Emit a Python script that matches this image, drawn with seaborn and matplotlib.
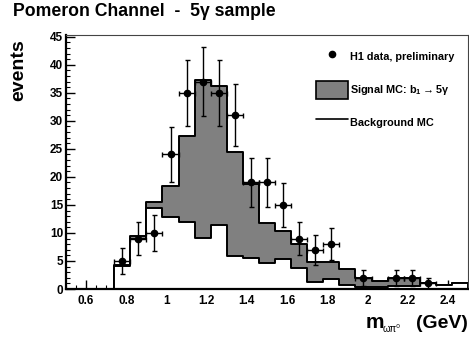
import numpy as np
import pandas as pd
import matplotlib
matplotlib.use("Agg")
import matplotlib.pyplot as plt
import seaborn as sns
from matplotlib.lines import Line2D
from matplotlib.patches import Patch
from matplotlib.ticker import MultipleLocator

# ---- data ----
bin_centers = [0.54, 0.62, 0.70, 0.78, 0.86, 0.94, 1.02, 1.10, 1.18, 1.26, 1.34, 1.42, 1.50,
               1.58, 1.66, 1.74, 1.82, 1.90, 1.98, 2.06, 2.14, 2.22, 2.30, 2.38, 2.46]
total_mc = [0, 0, 0, 4.3, 9.5, 15.5, 18.3, 27.3, 37.3, 36.2, 24.4, 18.8, 11.8,
            10.4, 8.1, 4.85, 4.85, 3.5, 2.0, 1.5, 2.0, 2.0, 1.1, 0.7, 1.0]
background_mc = [0, 0, 0, 4.1, 9.0, 14.5, 12.8, 12.0, 9.1, 11.5, 5.9, 5.45, 4.7,
                 5.3, 3.7, 1.3, 1.8, 0.8, 0.3, 0.3, 0.5, 0.5, 1.1, 0.7, 1.0]
data_x = [0.78, 0.86, 0.94, 1.02, 1.10, 1.18, 1.26, 1.34, 1.42, 1.50, 1.58, 1.66, 1.74, 1.82,
          1.98, 2.14, 2.22, 2.30]
data_y = [5, 9, 10, 24, 35, 37, 35, 31, 19, 19, 15, 9, 7, 8, 2, 2, 2, 1]
data_yerr = [2.24, 3.0, 3.16, 4.9, 5.92, 6.08, 5.92, 5.57, 4.36, 4.36, 3.87, 3.0, 2.65, 2.83,
             1.41, 1.41, 1.41, 1.0]
half_bin = 0.04
x_range = (0.5, 2.5)
n_bins = 25
x_ticks = [0.6, 0.8, 1.0, 1.2, 1.4, 1.6, 1.8, 2.0, 2.2, 2.4]
x_tick_labels = ["0.6", "0.8", "1", "1.2", "1.4", "1.6", "1.8", "2", "2.2", "2.4"]
y_ticks = [0, 5, 10, 15, 20, 25, 30, 35, 40, 45]

sns.set_theme(style="white")
plt.rcParams["font.family"] = ["Liberation Sans", "DejaVu Sans"]
plt.rcParams["font.weight"] = "bold"
plt.rcParams["text.color"] = "black"
plt.rcParams["xtick.color"] = "black"
plt.rcParams["ytick.color"] = "black"
plt.rcParams["mathtext.fontset"] = "custom"
plt.rcParams["mathtext.rm"] = "Liberation Sans:bold"
plt.rcParams["mathtext.it"] = "Liberation Sans:italic:bold"
plt.rcParams["mathtext.bf"] = "Liberation Sans:bold"

W, H = 469, 343
fig = plt.figure(figsize=(W / 100, H / 100), dpi=100)
ax = fig.add_axes([66 / W, (H - 289) / H, (468 - 66) / W, (289 - 35) / H])

df = pd.DataFrame({"x": bin_centers, "total": total_mc, "bg": background_mc})

sns.histplot(data=df, x="x", weights="total", bins=n_bins, binrange=x_range,
             element="step", fill=True, color="#808080", edgecolor="black", alpha=1,
             linewidth=1.4, ax=ax)
sns.histplot(data=df, x="x", weights="bg", bins=n_bins, binrange=x_range,
             element="step", fill=True, color="white", edgecolor="black", alpha=1,
             linewidth=1.4, ax=ax)

ax.errorbar(data_x, data_y, xerr=half_bin, yerr=data_yerr, fmt="o", color="black",
            markersize=4.5, elinewidth=1.0, capsize=1.8, capthick=1.0, zorder=5)

ax.set_xlim(*x_range)
ax.set_ylim(0, 45.3)
ax.set_xlabel("")
ax.set_ylabel("")
ax.set_xticks(x_ticks)
ax.set_xticklabels(x_tick_labels)
ax.set_yticks(y_ticks)
ax.xaxis.set_minor_locator(MultipleLocator(0.05))
ax.yaxis.set_minor_locator(MultipleLocator(1))
ax.tick_params(axis="both", which="both", direction="in", colors="black",
               bottom=True, left=True, top=False, right=False)
ax.tick_params(axis="x", which="major", length=6.5, width=1.0, pad=4, labelsize=8.5)
ax.tick_params(axis="x", which="minor", length=3, width=0.8)
ax.tick_params(axis="y", which="major", length=6.5, width=1.0, pad=2, labelsize=8.5)
ax.tick_params(axis="y", which="minor", length=3, width=0.8)
for lab in ax.get_xticklabels() + ax.get_yticklabels():
    lab.set_fontweight("bold")
    lab.set_color("black")

for side in ["left", "bottom"]:
    ax.spines[side].set_color("black")
    ax.spines[side].set_linewidth(1.6)
for side in ["top", "right"]:
    ax.spines[side].set_color("#444444")
    ax.spines[side].set_linewidth(0.8)
ax.grid(False)

handles = [
    Line2D([], [], marker="o", linestyle="none", color="black", markersize=4.5),
    Patch(facecolor="#808080", edgecolor="black", linewidth=1.2),
    Line2D([], [], color="black", linewidth=1.2),
]
labels = ["H1 data, preliminary", "Signal MC: b$_{1}$$\\rightarrow$5\u03b3", "Background MC"]
leg = ax.legend(handles, labels, loc="upper left",
                bbox_to_anchor=(316 / W, 1 - 48 / H), bbox_transform=fig.transFigure,
                frameon=False, fontsize=7.8, handlelength=2.95, handleheight=2.2,
                handletextpad=0.2, labelspacing=1.33, borderpad=0, borderaxespad=0)
for t in leg.get_texts():
    t.set_fontweight("bold")
    t.set_color("black")

fig.text(13 / W, 1 - 12 / H, "Pomeron Channel  -  5\u03b3 sample", fontsize=12.7,
         fontweight="bold", ha="left", va="center", color="black")
fig.text(19 / W, 1 - 70 / H, "events", fontsize=14, fontweight="bold", rotation=90,
         ha="center", va="center", color="black")
fig.text(366 / W, 1 - 328 / H, "m", fontsize=15, fontweight="bold",
         ha="left", va="baseline", color="black")
fig.text(383 / W, 1 - 332 / H, "\u03c9\u03c0\u2070", fontsize=7, fontweight="normal",
         ha="left", va="baseline", color="black")
fig.text(468 / W, 1 - 328 / H, "(GeV)", fontsize=14, fontweight="bold",
         ha="right", va="baseline", color="black")

fig.savefig("out.png", dpi=100)
